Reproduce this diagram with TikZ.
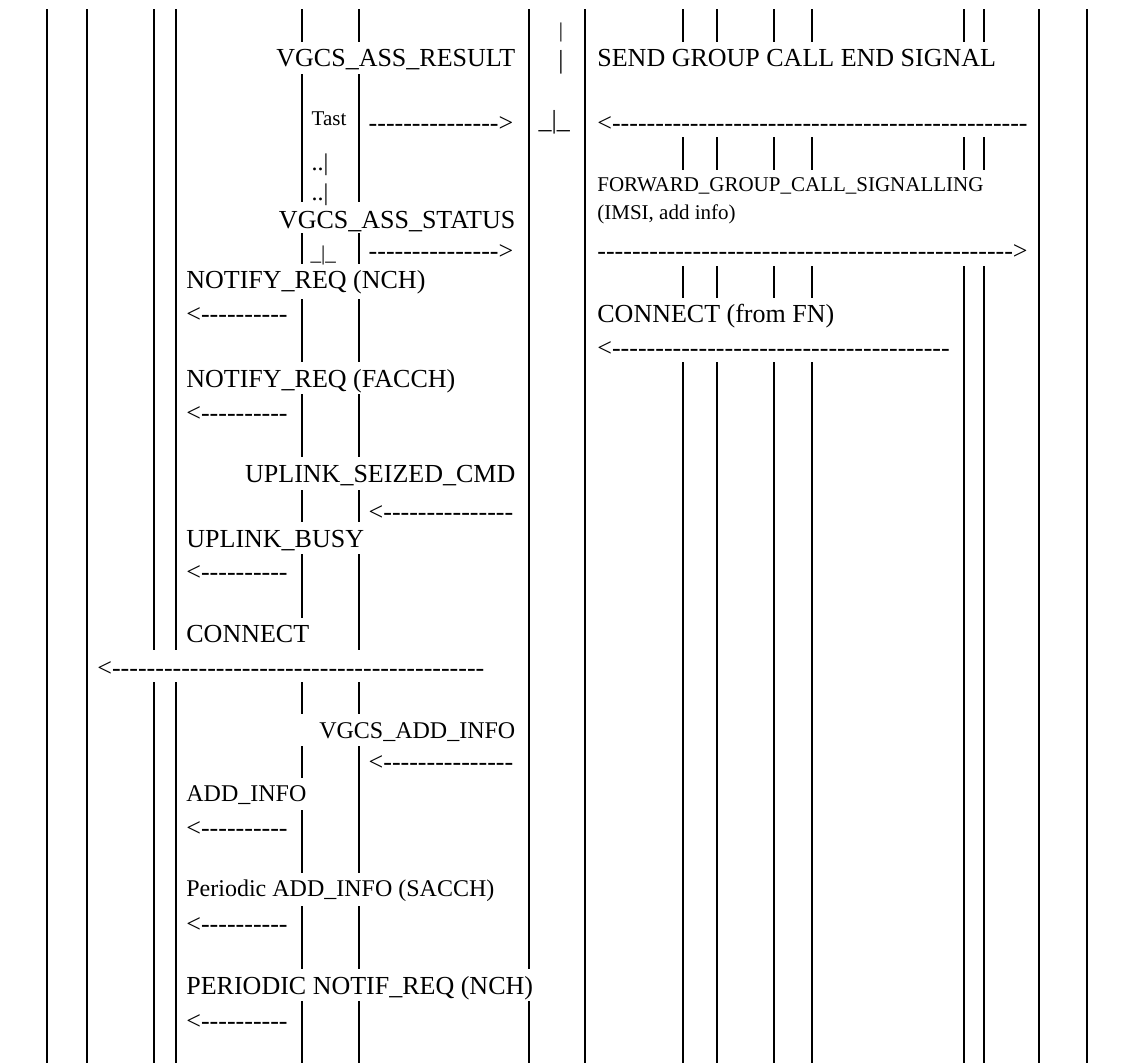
\documentclass[tikz,border=0pt]{standalone}
\usepackage{fontspec}
\setmainfont{Liberation Serif}
\newcount\dashcount
\newcommand{\dashes}[1]{\dashcount=#1\relax\loop\ifnum\dashcount>0 -{}\advance\dashcount by -1\relax\repeat}
\begin{document}
\begin{tikzpicture}[x = 1pt, y = -1pt, line width = 1.4pt,
    every node/.style = {inner sep = 0pt},
    txtbig/.style = {font = \fontsize{26}{30}\selectfont},
    txtmid/.style = {font = \fontsize{24}{28}\selectfont},
    txtsmall/.style = {font = \fontsize{21}{25}\selectfont}]
        \useasboundingbox (0, 0) rectangle (1128, 1063);
        \foreach \x in {47, 87, 585, 1039, 1087}
            \draw (\x, 9) -- (\x, 1063);
        \foreach \x in {154, 176}
            \foreach \a/\b in {9/650, 682/1063}
                \draw (\x, \a) -- (\x, \b);
        \foreach \a/\b in {9/42, 74/202, 233/264, 299/362, 394/457, 490/522, 554/618, 682/714, 746/778, 810/873, 906/969, 1001/1063}
            \draw (302, \a) -- (302, \b);
        \foreach \a/\b in {9/42, 74/202, 233/264, 299/362, 394/457, 490/522, 554/650, 682/714, 746/873, 906/969, 1001/1063}
            \draw (359, \a) -- (359, \b);
        \foreach \a/\b in {9/969, 1001/1063}
            \draw (529, \a) -- (529, \b);
        \foreach \x in {683, 717, 774, 812}
            \foreach \a/\b in {9/42, 137/170, 266/298, 362/1063}
                \draw (\x, \a) -- (\x, \b);
        \foreach \x in {964, 984}
            \foreach \a/\b in {9/42, 137/170, 266/1063}
                \draw (\x, \a) -- (\x, \b);
        \node [txtbig, anchor = base east] (asres) at (516, 66.7) {VGCS\_ASS\_RESULT};
        \node [txtbig, anchor = base west] (gcend) at (596.7, 66.7) {SEND GROUP CALL END SIGNAL};
        \node [txtsmall, anchor = base] (pipea) at (561, 37) {|};
        \node [txtbig, anchor = base] (pipeb) at (561, 68) {|};
        \node [txtsmall, anchor = base west] (tast) at (311, 125) {Tast};
        \node [txtbig, anchor = base west] (arres) at (368, 131.5) {\dashes{15}>};
        \node [txtbig, anchor = base west] (tickg) at (538, 128) {\_|\_};
        \node [txtbig, anchor = base west] (argcend) at (596.7, 131.5) {<\dashes{48}};
        \node [txtmid, anchor = base west] (dota) at (311, 170) {..|};
        \node [txtmid, anchor = base west] (dotb) at (311, 200) {..|};
        \node [txtsmall, anchor = base west] (fwd) at (596.7, 191) {FORWARD\_GROUP\_CALL\_SIGNALLING};
        \node [txtsmall, anchor = base west] (imsi) at (596.7, 219) {(IMSI, add info)};
        \node [txtbig, anchor = base east] (asstat) at (516, 228) {VGCS\_ASS\_STATUS};
        \node [txtsmall, anchor = base west] (ticke) at (310, 260) {\_|\_};
        \node [txtbig, anchor = base west] (arstat) at (368, 259.5) {\dashes{15}>};
        \node [txtbig, anchor = base west] (arfwd) at (596.7, 259.5) {\dashes{48}>};
        \node [txtbig, anchor = base west] (notnch) at (185.7, 288) {NOTIFY\_REQ (NCH)};
        \node [txtbig, anchor = base west] (arnotnch) at (185.7, 322.5) {<\dashes{10}};
        \node [txtbig, anchor = base west] (confn) at (596.7, 322) {CONNECT (from FN)};
        \node [txtbig, anchor = base west] (arconfn) at (596.7, 356.5) {<\dashes{39}};
        \node [txtbig, anchor = base west] (notfacch) at (185.7, 387) {NOTIFY\_REQ (FACCH)};
        \node [txtbig, anchor = base west] (arnotfacch) at (185.7, 421.5) {<\dashes{10}};
        \node [txtbig, anchor = base east] (seized) at (516, 482) {UPLINK\_SEIZED\_CMD};
        \node [txtbig, anchor = base west] (arseized) at (368, 520.5) {<\dashes{15}};
        \node [txtbig, anchor = base west] (busy) at (185.7, 547) {UPLINK\_BUSY};
        \node [txtbig, anchor = base west] (arbusy) at (185.7, 580.5) {<\dashes{10}};
        \node [txtbig, anchor = base west] (conn) at (185.7, 642) {CONNECT};
        \node [txtbig, anchor = base west] (arconn) at (96.7, 676.5) {<\dashes{43}};
        \node [txtmid, anchor = base east] (vaddinfo) at (516, 738) {VGCS\_ADD\_INFO};
        \node [txtbig, anchor = base west] (arvaddinfo) at (368, 770.5) {<\dashes{15}};
        \node [txtmid, anchor = base west] (addinfo) at (185.7, 801) {ADD\_INFO};
        \node [txtbig, anchor = base west] (araddinfo) at (185.7, 836.5) {<\dashes{10}};
        \node [txtmid, anchor = base west] (persacch) at (185.7, 896) {Periodic ADD\_INFO (SACCH)};
        \node [txtbig, anchor = base west] (arpersacch) at (185.7, 932.5) {<\dashes{10}};
        \node [txtbig, anchor = base west] (pernch) at (185.7, 994) {PERIODIC NOTIF\_REQ (NCH)};
        \node [txtbig, anchor = base west] (arpernch) at (185.7, 1029.5) {<\dashes{10}};
    \end{tikzpicture}
\end{document}
